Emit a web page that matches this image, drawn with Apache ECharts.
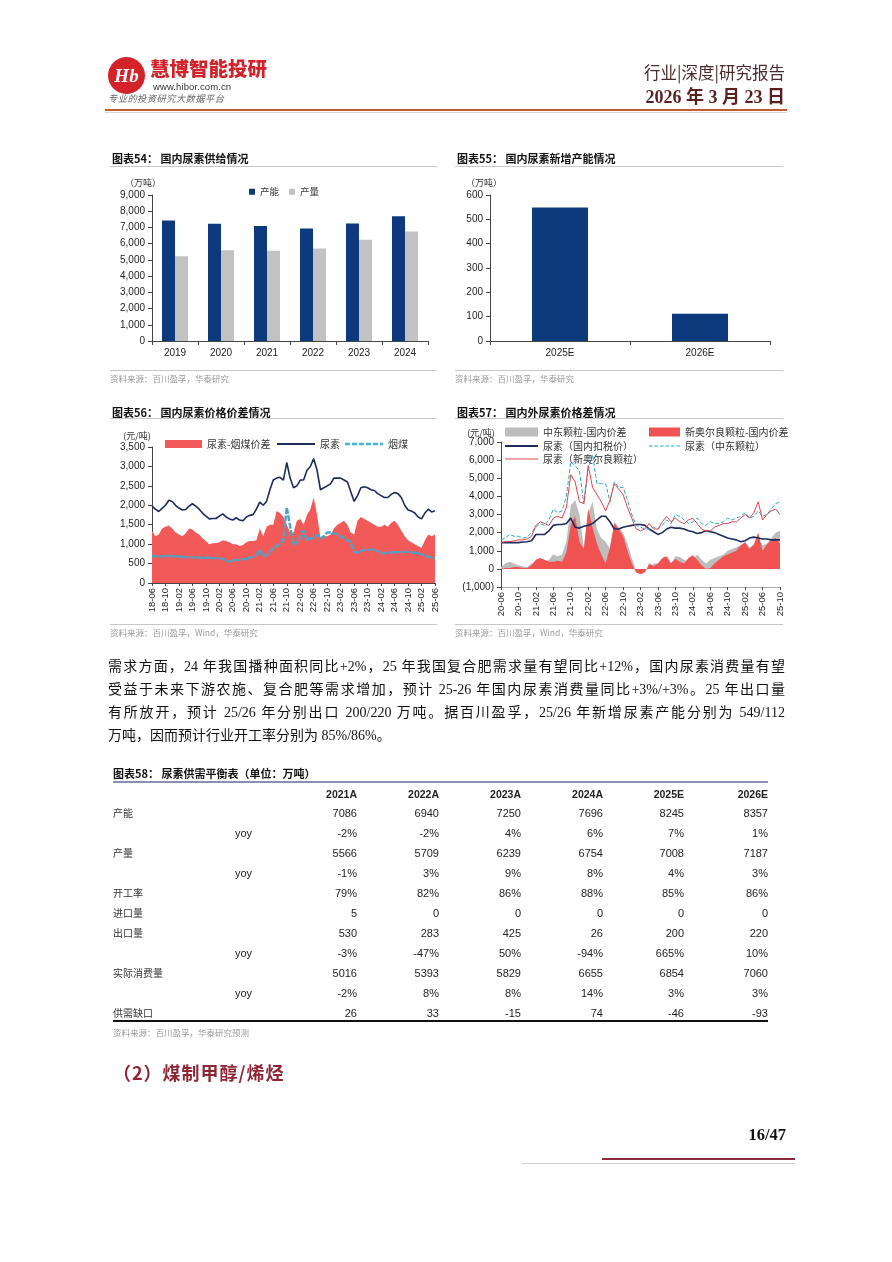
<!DOCTYPE html>
<html><head><meta charset="utf-8">
<script src="https://cdn.jsdelivr.net/npm/echarts@6/dist/echarts.min.js"></script>
<style>
html,body{margin:0;padding:0;background:#fff;}
#page{position:relative;width:892px;height:1262px;overflow:hidden;font-family:"Noto Sans CJK SC","Liberation Sans",sans-serif;color:#222;}
#chart{position:absolute;left:0;top:0;width:892px;height:1262px;z-index:1;}
.abs{position:absolute;white-space:nowrap;z-index:2;}
.hl{position:absolute;height:1px;background:#c8c8c8;z-index:2;}
.ctitle{font-size:11px;font-weight:700;line-height:14px;color:#111;}
.src{font-size:8.5px;color:#9a9a9a;line-height:12px;}
.para{position:absolute;left:108px;width:677px;font-size:14px;line-height:23px;height:23px;white-space:nowrap;font-family:"Liberation Serif","Noto Sans CJK SC",serif;color:#111;z-index:2;}
.just{text-align:justify;text-align-last:justify;white-space:normal;}
.cell{position:absolute;font-family:"Liberation Sans",Arial,sans-serif;font-size:11px;line-height:14px;color:#222;white-space:nowrap;z-index:2;}
.rlab{position:absolute;font-size:10px;line-height:14px;color:#333;white-space:nowrap;z-index:2;}
</style></head>
<body><div id="page">
<div id="chart"></div>

<!-- header -->
<div class="abs" style="left:108px;top:57px;width:37px;height:37px;border-radius:50%;background:#d2232a;color:#fff;font:italic 700 19px 'Liberation Serif',serif;text-align:center;line-height:37px;">Hb</div>
<div class="abs" style="left:150px;top:55px;font-size:19.5px;font-weight:900;color:#d2232a;line-height:26px;">慧博智能投研</div>
<div class="abs" style="left:153px;top:81px;font-family:'Liberation Sans',sans-serif;font-size:9.5px;color:#333;line-height:12px;letter-spacing:0.1px;">www.hibor.com.cn</div>
<div class="abs" style="left:108px;top:92px;font-size:9.3px;font-style:italic;color:#666;line-height:13px;letter-spacing:0.4px;">专业的投资研究大数据平台</div>
<div class="abs" style="right:107px;top:62px;font-size:16.5px;color:#4a2a2a;line-height:20px;">行业|深度|研究报告</div>
<div class="abs" style="right:107px;top:86px;font-family:'Liberation Serif','Noto Sans CJK SC',serif;font-size:18px;font-weight:700;color:#5a1f1f;line-height:22px;">2026 年 3 月 23 日</div>
<div class="abs" style="left:105px;top:109px;width:682px;height:2px;background:#c45a34;"></div>
<div class="abs" style="left:105px;top:112px;width:682px;height:1px;background:#d6d6d6;"></div>

<!-- chart titles & sources -->
<div class="abs ctitle" style="left:112px;top:151px;">图表54： 国内尿素供给情况</div>
<div class="hl" style="left:110px;top:166px;width:327px;"></div>
<div class="hl" style="left:110px;top:370px;width:327px;"></div>
<div class="abs src" style="left:110px;top:372px;">资料来源：百川盈孚，华泰研究</div>

<div class="abs ctitle" style="left:457px;top:151px;">图表55： 国内尿素新增产能情况</div>
<div class="hl" style="left:455px;top:166px;width:328px;"></div>
<div class="hl" style="left:455px;top:370px;width:328px;"></div>
<div class="abs src" style="left:455px;top:372px;">资料来源：百川盈孚，华泰研究</div>

<div class="abs ctitle" style="left:112px;top:405px;">图表56： 国内尿素价格价差情况</div>
<div class="hl" style="left:110px;top:418px;width:327px;"></div>
<div class="hl" style="left:110px;top:624px;width:327px;"></div>
<div class="abs src" style="left:110px;top:626px;">资料来源：百川盈孚，Wind，华泰研究</div>

<div class="abs ctitle" style="left:457px;top:405px;">图表57： 国内外尿素价格差情况</div>
<div class="hl" style="left:455px;top:418px;width:328px;"></div>
<div class="hl" style="left:455px;top:624px;width:328px;"></div>
<div class="abs src" style="left:455px;top:626px;">资料来源：百川盈孚，Wind，华泰研究</div>

<!-- paragraph -->
<div class="para just" style="top:655px;">需求方面，24 年我国播种面积同比+2%，25 年我国复合肥需求量有望同比+12%，国内尿素消费量有望</div>
<div class="para just" style="top:678px;">受益于未来下游农施、复合肥等需求增加，预计 25-26 年国内尿素消费量同比+3%/+3%。25 年出口量</div>
<div class="para just" style="top:701px;">有所放开，预计 25/26 年分别出口 200/220 万吨。据百川盈孚，25/26 年新增尿素产能分别为 549/112</div>
<div class="para" style="top:724px;">万吨，因而预计行业开工率分别为 85%/86%。</div>

<!-- table -->
<div class="abs ctitle" style="left:113px;top:766px;">图表58： 尿素供需平衡表（单位：万吨）</div>
<div class="abs" style="left:113px;top:781px;width:655px;height:1.5px;background:#8a8fb5;"></div>
<div id="table"></div>
<div class="abs" style="left:113px;top:1020px;width:655px;height:1.5px;background:#111;"></div>
<div class="abs src" style="left:113px;top:1026px;">资料来源：百川盈孚，华泰研究预测</div>
<div class="abs" style="left:113px;top:1060px;font-size:18px;font-weight:700;color:#8e2435;letter-spacing:1px;line-height:24px;">（2）煤制甲醇/烯烃</div>

<!-- footer -->
<div class="abs" style="right:106px;top:1124px;font-family:'Liberation Serif',serif;font-size:16.5px;font-weight:700;color:#111;line-height:22px;">16/47</div>
<div class="abs" style="left:602px;top:1158px;width:193px;height:2px;background:#8b2a3a;"></div>
<div class="abs" style="left:522px;top:1163px;width:273px;height:1px;background:#cfcfcf;"></div>
</div>

<script>
// ---------- data ----------
const years54 = ['2019','2020','2021','2022','2023','2024'];
const capacity54 = [7430, 7230, 7086, 6940, 7250, 7696];
const output54 = [5220, 5590, 5566, 5709, 6239, 6754];

const years55 = ['2025E','2026E'];
const newCap55 = [549, 112];

function buildMonths(y, m, n){const a=[];for(let i=0;i<n;i++){a.push(String(y%100).padStart(2,'0')+'-'+String(m).padStart(2,'0'));m++;if(m>12){m=1;y++;}}return a;}
const months56 = buildMonths(2018, 6, 85);   // 18-06 .. 25-06
const urea56 = [
 1980,1900,1840,1920,2000,2130,2100,
 2000,1930,1880,1890,1980,2040,1980,1900,1800,1720,1650,1660,
 1660,1720,1780,1700,1650,1620,1680,1620,1600,1700,1740,1760,
 1900,2080,2000,2100,2400,2650,2700,2720,2650,3100,2700,2450,
 2500,2650,2650,2900,3000,3200,2900,2400,2450,2500,2550,2700,
 2700,2700,2650,2600,2350,2100,2250,2450,2480,2450,2400,2380,
 2300,2250,2200,2200,2280,2330,2300,2200,2000,1880,1850,1800,
 1700,1650,1800,1900,1830,1860];
const coal56 = [
 700,690,680,690,690,700,690,
 690,680,670,670,660,660,660,650,650,650,650,640,
 640,640,620,580,550,570,590,600,610,620,650,680,
 720,850,680,720,800,900,950,1000,1100,1950,1450,980,
 1050,1150,1350,1100,1150,1150,1250,1150,1200,1300,1300,1280,
 1250,1200,1150,1100,1050,800,780,820,850,860,860,860,
 820,760,770,780,790,790,790,800,800,800,790,780,
 770,740,700,680,650,640];
const spread56 = [
 1350,1200,1250,1400,1450,1480,1400,
 1300,1250,1200,1280,1400,1380,1300,1250,1150,1080,1000,1020,
 1030,1050,1100,1080,1050,1000,1000,950,980,1050,1080,1080,
 1100,1400,1200,1450,1500,1500,1850,1800,1700,1500,1300,1300,
 1600,1650,1500,1750,1900,2200,1750,1150,1200,1200,1250,1400,
 1500,1550,1600,1500,1300,1250,1600,1700,1650,1600,1550,1500,
 1450,1450,1500,1450,1550,1600,1500,1350,1200,1100,1050,1000,
 950,900,1100,1250,1200,1250];

const months57 = buildMonths(2020, 6, 65);   // 20-06 .. 25-10
const dom57 = [
 1450,1450,1450,1450,1450,1480,1500,
 1550,1900,1900,1900,2100,2400,2450,2450,2500,2800,2300,2250,
 2350,2400,2500,2700,2900,2900,2600,2200,2200,2300,2350,2400,
 2450,2450,2400,2200,2050,1900,2000,2200,2300,2250,2250,2200,
 2100,2050,1950,2000,2100,2050,2000,1900,1800,1700,1650,1600,
 1500,1550,1700,1750,1700,1650,1650,1600,1600,1600];
const me57 = [
 1600,1700,1900,1800,1800,1700,1750,
 2000,2300,2500,2400,2700,3300,3100,3200,4000,5900,5700,5400,
 3600,5500,6300,4700,4700,4700,3700,4800,4500,4500,3800,3000,
 2400,2300,2200,2200,2300,2200,2400,2700,2500,3000,2900,2700,
 2500,2600,2800,2500,2400,2600,2500,2500,2600,2800,2700,2800,
 2900,3100,2800,2900,3200,2900,3000,3300,3600,3700];
const nola57 = [
 1450,1500,1500,1550,1600,1600,1650,
 1800,2400,2600,2500,2400,2800,2900,2800,3400,5200,4800,3700,
 3600,5700,4500,4100,3700,3200,3800,4700,4400,4100,3400,2800,
 2200,2100,2200,2500,2200,2200,2600,2900,2600,2800,2600,2500,
 2700,2800,2500,2200,2100,2100,2300,2400,2500,2500,2600,2600,
 2800,3000,2800,3100,3700,2700,3000,3200,3300,3000];
const meSpread57 = [
 100,300,400,300,200,150,100,
 300,400,500,400,500,800,700,800,1500,3500,3800,3000,
 1200,3100,3700,2200,1700,1500,1100,2600,2300,2000,1400,600,
 -100,-200,-100,100,300,300,400,500,300,700,650,500,
 400,500,800,500,300,500,600,700,800,1000,1100,1200,
 1300,1500,1200,1300,1600,1300,1400,1700,2000,2100];
const nolaSpread57 = [
 0,50,50,100,100,50,50,
 200,500,600,500,400,400,450,400,900,2400,2900,1500,
 1100,3300,2300,1400,800,300,1200,2500,2200,1800,1000,300,
 -200,-300,-200,300,150,300,600,700,300,550,400,300,
 600,750,500,200,0,50,300,500,700,800,900,1000,
 1300,1450,1100,1350,2000,1000,1350,1600,1700,1400];

// table 58
const tableCols = ['2021A','2022A','2023A','2024A','2025E','2026E'];
const tableLabels = ['产能','','产量','','开工率','进口量','出口量','','实际消费量','','供需缺口'];
const tableSub = ['','yoy','','yoy','','','','yoy','','yoy',''];
const tableValues = [
 ['7086','6940','7250','7696','8245','8357'],
 ['-2%','-2%','4%','6%','7%','1%'],
 ['5566','5709','6239','6754','7008','7187'],
 ['-1%','3%','9%','8%','4%','3%'],
 ['79%','82%','86%','88%','85%','86%'],
 ['5','0','0','0','0','0'],
 ['530','283','425','26','200','220'],
 ['-3%','-47%','50%','-94%','665%','10%'],
 ['5016','5393','5829','6655','6854','7060'],
 ['-2%','8%','8%','14%','3%','3%'],
 ['26','33','-15','74','-46','-93']];

// ---------- table build ----------
(function(){
 const colRight = [357,439,521,603,684,768];
 const t = document.getElementById('page');
 function add(cls, html, style){const d=document.createElement('div');d.className=cls;d.innerHTML=html;d.setAttribute('style',style);t.appendChild(d);}
 tableCols.forEach((c,j)=>add('cell','<b>'+c+'</b>','right:'+(892-colRight[j])+'px;top:787px;font-size:10.5px;'));
 tableValues.forEach((row,i)=>{
   const y = 806 + i*20;
   if(tableLabels[i]) add('rlab',tableLabels[i],'left:113px;top:'+y+'px;');
   if(tableSub[i]) add('cell',tableSub[i],'left:235px;top:'+y+'px;');
   row.forEach((v,j)=>add('cell',v,'right:'+(892-colRight[j])+'px;top:'+y+'px;'));
 });
})();

// ---------- charts ----------
const NAVY = '#0d3a7c';
const AX = '#444';
const FONT = 'Liberation Sans, Noto Sans CJK SC, sans-serif';
const CJK = 'Noto Sans CJK SC, sans-serif';
function fmt(v){const s=Math.abs(v).toLocaleString('en-US');return v<0?'('+s+')':s;}

// legend icon paths (line swatches)
function solidIcon(w,h){return 'path://M0,0L'+w+',0L'+w+','+h+'L0,'+h+'Z';}
function dashIcon(w,h,dash,gap){let p='path://';for(let x=0;x<w;x+=dash+gap){const e=Math.min(w,x+dash);p+='M'+x+',0L'+e+',0L'+e+','+h+'L'+x+','+h+'Z';}return p;}

function yAx(gi, min, max, interval, name, gap, pad){
 return {type:'value',gridIndex:gi,min:min,max:max,interval:interval,
  name:name,nameLocation:'end',nameGap:gap,
  nameTextStyle:{fontSize:9,color:'#333',fontFamily:CJK,align:'center',padding:pad},
  axisLine:{show:true,lineStyle:{color:AX,width:1}},
  axisTick:{show:true,length:4,lineStyle:{color:AX}},
  splitLine:{show:false},
  axisLabel:{fontSize:10,color:'#222',fontFamily:FONT,margin:7,formatter:fmt}};
}
function xCat(gi, data, extra){
 return Object.assign({type:'category',gridIndex:gi,data:data,
  axisLine:{show:true,lineStyle:{color:AX,width:1}},
  axisTick:{show:true,length:4,lineStyle:{color:AX}},
  axisLabel:{fontSize:10,color:'#222',fontFamily:FONT,margin:7}}, extra||{});
}
const legText = {fontSize:10,color:'#333',fontFamily:CJK};
const timeLabel = {fontSize:9.5,color:'#222',fontFamily:FONT,rotate:90,interval:3,margin:5};
const legBase = {itemStyle:{borderWidth:0},lineStyle:{width:0},textStyle:legText,symbolKeepAspect:false};
function leg(o){return Object.assign({}, legBase, o);}

const option = {
 animation:false,
 grid:[
  {left:152,top:195,width:276,height:146},
  {left:490,top:195,width:280,height:146},
  {left:152,top:447,width:283,height:136},
  {left:501,top:442,width:279,height:145}
 ],
 xAxis:[
  xCat(0, years54),
  xCat(1, years55),
  xCat(2, months56, {boundaryGap:false, axisTick:{show:true,length:3,interval:3,lineStyle:{color:AX}}, axisLabel:timeLabel}),
  xCat(3, months57, {boundaryGap:false, axisLine:{show:true,onZero:false,lineStyle:{color:'#aaa',width:1}}, axisTick:{show:true,length:3,interval:3,lineStyle:{color:AX}}, axisLabel:timeLabel})
 ],
 yAxis:[
  yAx(0, 0, 9000, 1000, '（万吨）', 8, [0,18,0,0]),
  yAx(1, 0, 600, 100, '（万吨）', 8, [0,12,0,0]),
  yAx(2, 0, 3500, 500, '(元/吨)', 7, [0,30,0,0]),
  yAx(3, -1000, 7000, 1000, '(元/吨)', 5, [0,40,0,0])
 ],
 legend:[
  leg({data:[{name:'产能',icon:'rect'},{name:'产量',icon:'rect'}],left:244,top:182,itemWidth:6,itemHeight:6,itemGap:10,textStyle:{fontSize:9.5,color:'#333',fontFamily:CJK}}),
  leg({data:[{name:'尿素-烟煤价差',icon:'rect'}],left:160,top:434,itemWidth:37,itemHeight:8}),
  leg({data:[{name:'尿素',icon:solidIcon(38,2)}],left:272,top:434,itemWidth:38,itemHeight:2}),
  leg({data:[{name:'烟煤',icon:dashIcon(38,2.5,5,2)}],left:340,top:434,itemWidth:38,itemHeight:2.5}),
  leg({data:[{name:'中东颗粒-国内价差',icon:'rect'}],left:500,top:422,itemWidth:33,itemHeight:9}),
  leg({data:[{name:'新奥尔良颗粒-国内价差',icon:'rect'}],left:644,top:422,itemWidth:31,itemHeight:9}),
  leg({data:[{name:'尿素（国内扣税价）',icon:solidIcon(33,2)}],left:500,top:436,itemWidth:33,itemHeight:2}),
  leg({data:[{name:'尿素（中东颗粒）',icon:dashIcon(31,1.2,3.5,1.8)}],left:644,top:436,itemWidth:31,itemHeight:1.2}),
  leg({data:[{name:'尿素（新奥尔良颗粒）',icon:solidIcon(33,1.2)}],left:500,top:449,itemWidth:33,itemHeight:1.2})
 ],
 series:[
  {name:'产能',type:'bar',xAxisIndex:0,yAxisIndex:0,data:capacity54,barWidth:13,barGap:'0%',itemStyle:{color:NAVY},color:NAVY},
  {name:'产量',type:'bar',xAxisIndex:0,yAxisIndex:0,data:output54,barWidth:13,barGap:'0%',itemStyle:{color:'#c2c2c2'},color:'#c2c2c2'},
  {name:'新增产能',type:'bar',xAxisIndex:1,yAxisIndex:1,data:newCap55,barWidth:56,itemStyle:{color:NAVY},color:NAVY},

  {name:'尿素-烟煤价差',type:'line',xAxisIndex:2,yAxisIndex:2,data:spread56,symbol:'none',color:'#f25a5a',itemStyle:{color:'#f25a5a'},lineStyle:{width:0},areaStyle:{color:'#f25a5a',opacity:1}},
  {name:'尿素',type:'line',xAxisIndex:2,yAxisIndex:2,data:urea56,symbol:'none',color:'#1c2b5c',itemStyle:{color:'#1c2b5c'},lineStyle:{width:1.6,color:'#1c2b5c'}},
  {name:'烟煤',type:'line',xAxisIndex:2,yAxisIndex:2,data:coal56,symbol:'none',color:'#45a5cc',itemStyle:{color:'#3fb6dc'},lineStyle:{width:2.4,type:[6,1.5],color:'#45a5cc'}},

  {name:'中东颗粒-国内价差',type:'line',xAxisIndex:3,yAxisIndex:3,data:meSpread57,symbol:'none',color:'#bdbdbd',itemStyle:{color:'#bdbdbd'},lineStyle:{width:0},areaStyle:{color:'#bdbdbd',opacity:1}},
  {name:'新奥尔良颗粒-国内价差',type:'line',xAxisIndex:3,yAxisIndex:3,data:nolaSpread57,symbol:'none',color:'#f05252',itemStyle:{color:'#f05252'},lineStyle:{width:0},areaStyle:{color:'#f05252',opacity:1}},
  {name:'尿素（国内扣税价）',type:'line',xAxisIndex:3,yAxisIndex:3,data:dom57,symbol:'none',color:'#1c2b5c',itemStyle:{color:'#1c2b5c'},lineStyle:{width:1.6,color:'#1c2b5c'}},
  {name:'尿素（中东颗粒）',type:'line',xAxisIndex:3,yAxisIndex:3,data:me57,symbol:'none',color:'#2aa8c8',itemStyle:{color:'#2aa8c8'},lineStyle:{width:1,type:[4,2],color:'#2aa8c8'}},
  {name:'尿素（新奥尔良颗粒）',type:'line',xAxisIndex:3,yAxisIndex:3,data:nola57,symbol:'none',color:'#e0474c',itemStyle:{color:'#e0474c'},lineStyle:{width:1,color:'#e0474c'}}
 ]
};
const chart = echarts.init(document.getElementById('chart'), null, {renderer:'canvas'});
chart.setOption(option);
</script>
</body></html>
